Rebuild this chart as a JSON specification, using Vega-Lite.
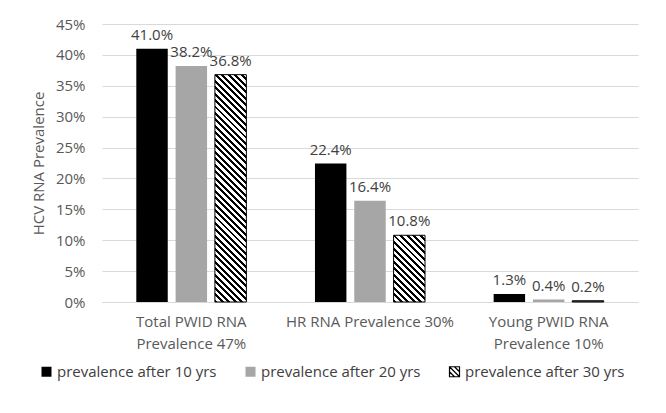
{
"$schema": "https://vega.github.io/schema/vega-lite/v6.json",
"width": 536, "height": 278,
"autosize": {"type": "none"},
"padding": {"left": 102, "top": 24, "right": 28, "bottom": 111},
"background": "white",
"config": {"font": "Open Sans", "view": {"stroke": null}},
"data": {"values": [
{"group": "Total PWID RNA Prevalence 47%", "series": "prevalence after 10 yrs", "value": 0.410},
{"group": "Total PWID RNA Prevalence 47%", "series": "prevalence after 20 yrs", "value": 0.382},
{"group": "Total PWID RNA Prevalence 47%", "series": "prevalence after 30 yrs", "value": 0.368},
{"group": "HR RNA Prevalence 30%", "series": "prevalence after 10 yrs", "value": 0.224},
{"group": "HR RNA Prevalence 30%", "series": "prevalence after 20 yrs", "value": 0.164},
{"group": "HR RNA Prevalence 30%", "series": "prevalence after 30 yrs", "value": 0.108},
{"group": "Young PWID RNA Prevalence 10%", "series": "prevalence after 10 yrs", "value": 0.013},
{"group": "Young PWID RNA Prevalence 10%", "series": "prevalence after 20 yrs", "value": 0.004},
{"group": "Young PWID RNA Prevalence 10%", "series": "prevalence after 30 yrs", "value": 0.002}
]},
"encoding": {
"x": {"field": "group", "type": "nominal", "sort": null,
 "scale": {"paddingInner": 0.384, "paddingOuter": 0.192},
 "axis": {"title": null, "labelAngle": 0, "ticks": false, "domain": true, "domainColor": "#D9D9D9", "labelFontSize": 15, "labelColor": "#595959", "labelPadding": 12, "labelLineHeight": 22, "labelBaseline": "top", "labelLimit": 0,
  "labelExpr": "datum.value == 'Total PWID RNA Prevalence 47%' ? ['Total PWID RNA', 'Prevalence 47%'] : datum.value == 'Young PWID RNA Prevalence 10%' ? ['Young PWID RNA', 'Prevalence 10%'] : datum.value"}},
"xOffset": {"field": "series", "type": "nominal", "sort": null, "scale": {"paddingInner": 0.2, "paddingOuter": 0}},
"y": {"field": "value", "type": "quantitative", "scale": {"domain": [0, 0.45]},
 "axis": {"title": "HCV RNA Prevalence", "format": ".0%", "values": [0, 0.05, 0.1, 0.15, 0.2, 0.25, 0.3, 0.35, 0.4, 0.45], "ticks": false, "domain": false, "grid": true, "gridColor": "#D9D9D9", "labelFontSize": 15, "labelColor": "#595959", "labelPadding": 17, "titleFontSize": 15, "titleColor": "#595959", "titleFontWeight": "normal", "titleX": -64, "titleY": 139, "titleAngle": -90, "titleBaseline": "middle", "titleAlign": "center"}}
},
"layer": [
{"mark": {"type": "bar", "strokeWidth": 1},
 "encoding": {
  "fill": {"field": "series", "type": "nominal", "sort": null,
   "scale": {"domain": ["prevalence after 10 yrs", "prevalence after 20 yrs", "prevalence after 30 yrs"], "range": ["#000000", "#A6A6A6", "#FFFFFF"]},
   "legend": {"title": null, "orient": "none", "legendX": -63, "legendY": 340, "direction": "horizontal", "symbolType": "M-1,-1H1V1H-1Z M-1,-1L1,1 M-1,0L0,1 M0,-1L1,0", "symbolSize": 100, "labelFontSize": 15, "labelColor": "#404040", "labelOffset": 3, "columnPadding": 26, "symbolStrokeWidth": 1.2},
   "condition": [
    {"test": "datum.series == 'prevalence after 30 yrs' && datum.group == 'Total PWID RNA Prevalence 47%'",
     "value": {"gradient": "linear", "x1": 0, "y1": 1, "x2": 0.1545, "y2": -0.117, "stops": [
{"offset":0,"color":"#000"},{"offset":0.0113,"color":"#000"},{"offset":0.0113,"color":"#fff"},{"offset":0.025,"color":"#fff"},
{"offset":0.025,"color":"#000"},{"offset":0.0363,"color":"#000"},{"offset":0.0363,"color":"#fff"},{"offset":0.05,"color":"#fff"},
{"offset":0.05,"color":"#000"},{"offset":0.0613,"color":"#000"},{"offset":0.0613,"color":"#fff"},{"offset":0.075,"color":"#fff"},
{"offset":0.075,"color":"#000"},{"offset":0.0863,"color":"#000"},{"offset":0.0863,"color":"#fff"},{"offset":0.1,"color":"#fff"},
{"offset":0.1,"color":"#000"},{"offset":0.1113,"color":"#000"},{"offset":0.1113,"color":"#fff"},{"offset":0.125,"color":"#fff"},
{"offset":0.125,"color":"#000"},{"offset":0.1363,"color":"#000"},{"offset":0.1363,"color":"#fff"},{"offset":0.15,"color":"#fff"},
{"offset":0.15,"color":"#000"},{"offset":0.1613,"color":"#000"},{"offset":0.1613,"color":"#fff"},{"offset":0.175,"color":"#fff"},
{"offset":0.175,"color":"#000"},{"offset":0.1863,"color":"#000"},{"offset":0.1863,"color":"#fff"},{"offset":0.2,"color":"#fff"},
{"offset":0.2,"color":"#000"},{"offset":0.2113,"color":"#000"},{"offset":0.2113,"color":"#fff"},{"offset":0.225,"color":"#fff"},
{"offset":0.225,"color":"#000"},{"offset":0.2363,"color":"#000"},{"offset":0.2363,"color":"#fff"},{"offset":0.25,"color":"#fff"},
{"offset":0.25,"color":"#000"},{"offset":0.2613,"color":"#000"},{"offset":0.2613,"color":"#fff"},{"offset":0.275,"color":"#fff"},
{"offset":0.275,"color":"#000"},{"offset":0.2863,"color":"#000"},{"offset":0.2863,"color":"#fff"},{"offset":0.3,"color":"#fff"},
{"offset":0.3,"color":"#000"},{"offset":0.3113,"color":"#000"},{"offset":0.3113,"color":"#fff"},{"offset":0.325,"color":"#fff"},
{"offset":0.325,"color":"#000"},{"offset":0.3363,"color":"#000"},{"offset":0.3363,"color":"#fff"},{"offset":0.35,"color":"#fff"},
{"offset":0.35,"color":"#000"},{"offset":0.3613,"color":"#000"},{"offset":0.3613,"color":"#fff"},{"offset":0.375,"color":"#fff"},
{"offset":0.375,"color":"#000"},{"offset":0.3863,"color":"#000"},{"offset":0.3863,"color":"#fff"},{"offset":0.4,"color":"#fff"},
{"offset":0.4,"color":"#000"},{"offset":0.4113,"color":"#000"},{"offset":0.4113,"color":"#fff"},{"offset":0.425,"color":"#fff"},
{"offset":0.425,"color":"#000"},{"offset":0.4363,"color":"#000"},{"offset":0.4363,"color":"#fff"},{"offset":0.45,"color":"#fff"},
{"offset":0.45,"color":"#000"},{"offset":0.4613,"color":"#000"},{"offset":0.4613,"color":"#fff"},{"offset":0.475,"color":"#fff"},
{"offset":0.475,"color":"#000"},{"offset":0.4863,"color":"#000"},{"offset":0.4863,"color":"#fff"},{"offset":0.5,"color":"#fff"},
{"offset":0.5,"color":"#000"},{"offset":0.5113,"color":"#000"},{"offset":0.5113,"color":"#fff"},{"offset":0.525,"color":"#fff"},
{"offset":0.525,"color":"#000"},{"offset":0.5363,"color":"#000"},{"offset":0.5363,"color":"#fff"},{"offset":0.55,"color":"#fff"},
{"offset":0.55,"color":"#000"},{"offset":0.5613,"color":"#000"},{"offset":0.5613,"color":"#fff"},{"offset":0.575,"color":"#fff"},
{"offset":0.575,"color":"#000"},{"offset":0.5863,"color":"#000"},{"offset":0.5863,"color":"#fff"},{"offset":0.6,"color":"#fff"},
{"offset":0.6,"color":"#000"},{"offset":0.6113,"color":"#000"},{"offset":0.6113,"color":"#fff"},{"offset":0.625,"color":"#fff"},
{"offset":0.625,"color":"#000"},{"offset":0.6363,"color":"#000"},{"offset":0.6363,"color":"#fff"},{"offset":0.65,"color":"#fff"},
{"offset":0.65,"color":"#000"},{"offset":0.6613,"color":"#000"},{"offset":0.6613,"color":"#fff"},{"offset":0.675,"color":"#fff"},
{"offset":0.675,"color":"#000"},{"offset":0.6863,"color":"#000"},{"offset":0.6863,"color":"#fff"},{"offset":0.7,"color":"#fff"},
{"offset":0.7,"color":"#000"},{"offset":0.7113,"color":"#000"},{"offset":0.7113,"color":"#fff"},{"offset":0.725,"color":"#fff"},
{"offset":0.725,"color":"#000"},{"offset":0.7363,"color":"#000"},{"offset":0.7363,"color":"#fff"},{"offset":0.75,"color":"#fff"},
{"offset":0.75,"color":"#000"},{"offset":0.7613,"color":"#000"},{"offset":0.7613,"color":"#fff"},{"offset":0.775,"color":"#fff"},
{"offset":0.775,"color":"#000"},{"offset":0.7863,"color":"#000"},{"offset":0.7863,"color":"#fff"},{"offset":0.8,"color":"#fff"},
{"offset":0.8,"color":"#000"},{"offset":0.8113,"color":"#000"},{"offset":0.8113,"color":"#fff"},{"offset":0.825,"color":"#fff"},
{"offset":0.825,"color":"#000"},{"offset":0.8363,"color":"#000"},{"offset":0.8363,"color":"#fff"},{"offset":0.85,"color":"#fff"},
{"offset":0.85,"color":"#000"},{"offset":0.8613,"color":"#000"},{"offset":0.8613,"color":"#fff"},{"offset":0.875,"color":"#fff"},
{"offset":0.875,"color":"#000"},{"offset":0.8863,"color":"#000"},{"offset":0.8863,"color":"#fff"},{"offset":0.9,"color":"#fff"},
{"offset":0.9,"color":"#000"},{"offset":0.9113,"color":"#000"},{"offset":0.9113,"color":"#fff"},{"offset":0.925,"color":"#fff"},
{"offset":0.925,"color":"#000"},{"offset":0.9363,"color":"#000"},{"offset":0.9363,"color":"#fff"},{"offset":0.95,"color":"#fff"},
{"offset":0.95,"color":"#000"},{"offset":0.9613,"color":"#000"},{"offset":0.9613,"color":"#fff"},{"offset":0.975,"color":"#fff"},
{"offset":0.975,"color":"#000"},{"offset":0.9863,"color":"#000"},{"offset":0.9863,"color":"#fff"},{"offset":1,"color":"#fff"}]}},
    {"test": "datum.series == 'prevalence after 30 yrs' && datum.group == 'HR RNA Prevalence 30%'",
     "value": {"gradient": "linear", "x1": 0, "y1": 1, "x2": 0.5675, "y2": -0.2039, "stops": [
{"offset":0,"color":"#000"},{"offset":0.03,"color":"#000"},{"offset":0.03,"color":"#fff"},{"offset":0.0667,"color":"#fff"},
{"offset":0.0667,"color":"#000"},{"offset":0.0967,"color":"#000"},{"offset":0.0967,"color":"#fff"},{"offset":0.1333,"color":"#fff"},
{"offset":0.1333,"color":"#000"},{"offset":0.1633,"color":"#000"},{"offset":0.1633,"color":"#fff"},{"offset":0.2,"color":"#fff"},
{"offset":0.2,"color":"#000"},{"offset":0.23,"color":"#000"},{"offset":0.23,"color":"#fff"},{"offset":0.2667,"color":"#fff"},
{"offset":0.2667,"color":"#000"},{"offset":0.2967,"color":"#000"},{"offset":0.2967,"color":"#fff"},{"offset":0.3333,"color":"#fff"},
{"offset":0.3333,"color":"#000"},{"offset":0.3633,"color":"#000"},{"offset":0.3633,"color":"#fff"},{"offset":0.4,"color":"#fff"},
{"offset":0.4,"color":"#000"},{"offset":0.43,"color":"#000"},{"offset":0.43,"color":"#fff"},{"offset":0.4667,"color":"#fff"},
{"offset":0.4667,"color":"#000"},{"offset":0.4967,"color":"#000"},{"offset":0.4967,"color":"#fff"},{"offset":0.5333,"color":"#fff"},
{"offset":0.5333,"color":"#000"},{"offset":0.5633,"color":"#000"},{"offset":0.5633,"color":"#fff"},{"offset":0.6,"color":"#fff"},
{"offset":0.6,"color":"#000"},{"offset":0.63,"color":"#000"},{"offset":0.63,"color":"#fff"},{"offset":0.6667,"color":"#fff"},
{"offset":0.6667,"color":"#000"},{"offset":0.6967,"color":"#000"},{"offset":0.6967,"color":"#fff"},{"offset":0.7333,"color":"#fff"},
{"offset":0.7333,"color":"#000"},{"offset":0.7633,"color":"#000"},{"offset":0.7633,"color":"#fff"},{"offset":0.8,"color":"#fff"},
{"offset":0.8,"color":"#000"},{"offset":0.83,"color":"#000"},{"offset":0.83,"color":"#fff"},{"offset":0.8667,"color":"#fff"},
{"offset":0.8667,"color":"#000"},{"offset":0.8967,"color":"#000"},{"offset":0.8967,"color":"#fff"},{"offset":0.9333,"color":"#fff"},
{"offset":0.9333,"color":"#000"},{"offset":0.9633,"color":"#000"},{"offset":0.9633,"color":"#fff"},{"offset":1,"color":"#fff"}]}},
    {"test": "datum.series == 'prevalence after 30 yrs' && datum.group == 'Young PWID RNA Prevalence 10%'", "value": "#595959"}
   ]},
  "stroke": {"field": "series", "type": "nominal", "sort": null,
   "scale": {"domain": ["prevalence after 10 yrs", "prevalence after 20 yrs", "prevalence after 30 yrs"], "range": ["transparent", "transparent", "#000000"]},
   "legend": {"title": null, "orient": "none", "legendX": -63, "legendY": 340, "direction": "horizontal", "symbolType": "M-1,-1H1V1H-1Z M-1,-1L1,1 M-1,0L0,1 M0,-1L1,0", "symbolSize": 100, "labelFontSize": 15, "labelColor": "#404040", "labelOffset": 3, "columnPadding": 26, "symbolStrokeWidth": 1.2}}
 }},
{"mark": {"type": "text", "baseline": "bottom", "dy": -6, "fontSize": 15, "color": "#404040"},
 "encoding": {"text": {"field": "value", "type": "quantitative", "format": ".1%"}}}
]
}
